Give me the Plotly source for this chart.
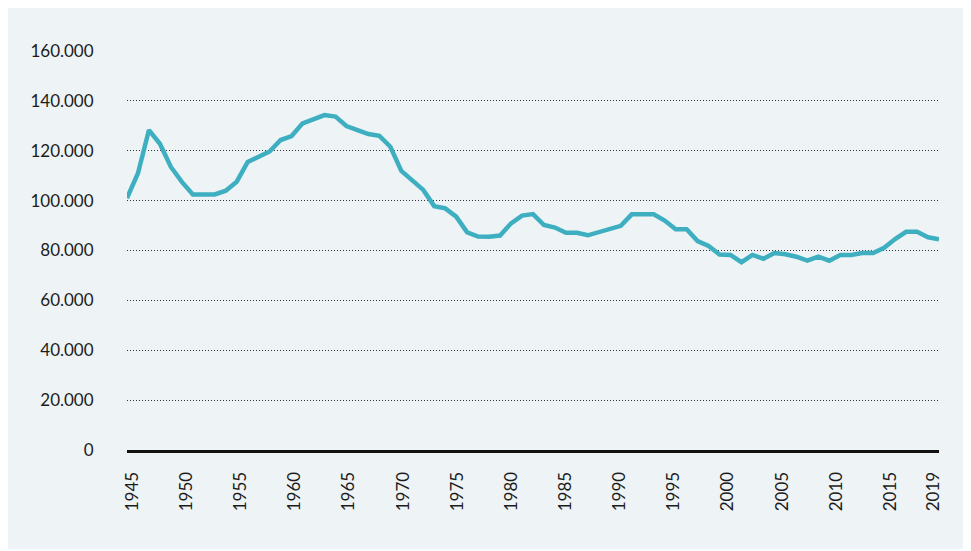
import plotly.graph_objects as go

# Years and values
years = list(range(1945, 2020))
values = [
    101000, 111000, 128300, 122800, 113500, 107500, 102500, 102500, 102500, 104000,
    107600, 115500, 117800, 119700, 124300, 125900, 131000, 132800, 134300, 133700,
    129900, 128300, 126700, 126000, 121600, 111900, 108000, 104300, 97800, 96900,
    93600, 87300, 85600, 85500, 86000, 90900, 94000, 94600, 90200, 89200,
    87100, 87100, 86100, 87500, 88500, 89900, 94500, 94500, 94500, 92000,
    88500, 88500, 83800, 81800, 78400, 78200, 75300, 78200, 76700, 79000,
    78500, 77500, 75900, 77500, 75900, 78200, 78200, 79000, 79000, 81100,
    84600, 87500, 87500, 85300, 84500,
]

x_ticks = [1945, 1950, 1955, 1960, 1965, 1970, 1975, 1980, 1985, 1990,
           1995, 2000, 2005, 2010, 2015, 2019]
y_ticks = [0, 20000, 40000, 60000, 80000, 100000, 120000, 140000, 160000]

bg = '#EEF3F6'

# plot area in figure pixels (page body adds an 8px offset)
left, top, pw, ph = 119, 43, 812, 399

fig = go.Figure()
fig.add_trace(go.Scatter(
    x=years,
    y=values,
    mode='lines',
    line=dict(color='#3EAFC0', width=4.5),
    hoverinfo='skip',
))
# invisible copy on the label axis (year labels sit at band centres)
fig.add_trace(go.Scatter(
    x=years,
    y=values,
    xaxis='x2',
    mode='lines',
    opacity=0,
    hoverinfo='skip',
))

# light panel behind the whole chart
fig.add_shape(
    type='rect', xref='paper', yref='paper', layer='below',
    x0=-left / pw, x1=(958 - left) / pw,
    y0=(top + ph - 541) / ph, y1=(top + ph) / ph,
    fillcolor=bg, line=dict(width=0),
)

fig.update_layout(
    width=971,
    height=551,
    margin=dict(l=left, r=971 - left - pw, t=top, b=551 - top - ph, autoexpand=False),
    paper_bgcolor='white',
    plot_bgcolor=bg,
    showlegend=False,
    separators=',.',
    font=dict(family='Lato, Noto Sans, sans-serif', size=17, color='#1c1c1c'),
    xaxis=dict(
        range=[1945, 2019],
        showticklabels=False,
        showgrid=False,
        zeroline=False,
        showline=True,
        linecolor='#111111',
        linewidth=3,
    ),
    xaxis2=dict(
        overlaying='x',
        side='bottom',
        range=[1944.5, 2019.5],
        tickmode='array',
        tickvals=x_ticks,
        tickangle=-90,
        showgrid=False,
        zeroline=False,
        showline=False,
        ticks='outside',
        ticklen=14,
        tickcolor='rgba(0,0,0,0)',
    ),
    yaxis=dict(
        range=[0, 160000],
        tickmode='array',
        tickvals=y_ticks,
        tickformat=',.0f',
        showgrid=True,
        gridcolor='#333333',
        gridwidth=1,
        griddash='1px,2px',
        zeroline=False,
        ticks='outside',
        ticklen=29,
        tickcolor='rgba(0,0,0,0)',
    ),
)

fig.write_html('out.html')
